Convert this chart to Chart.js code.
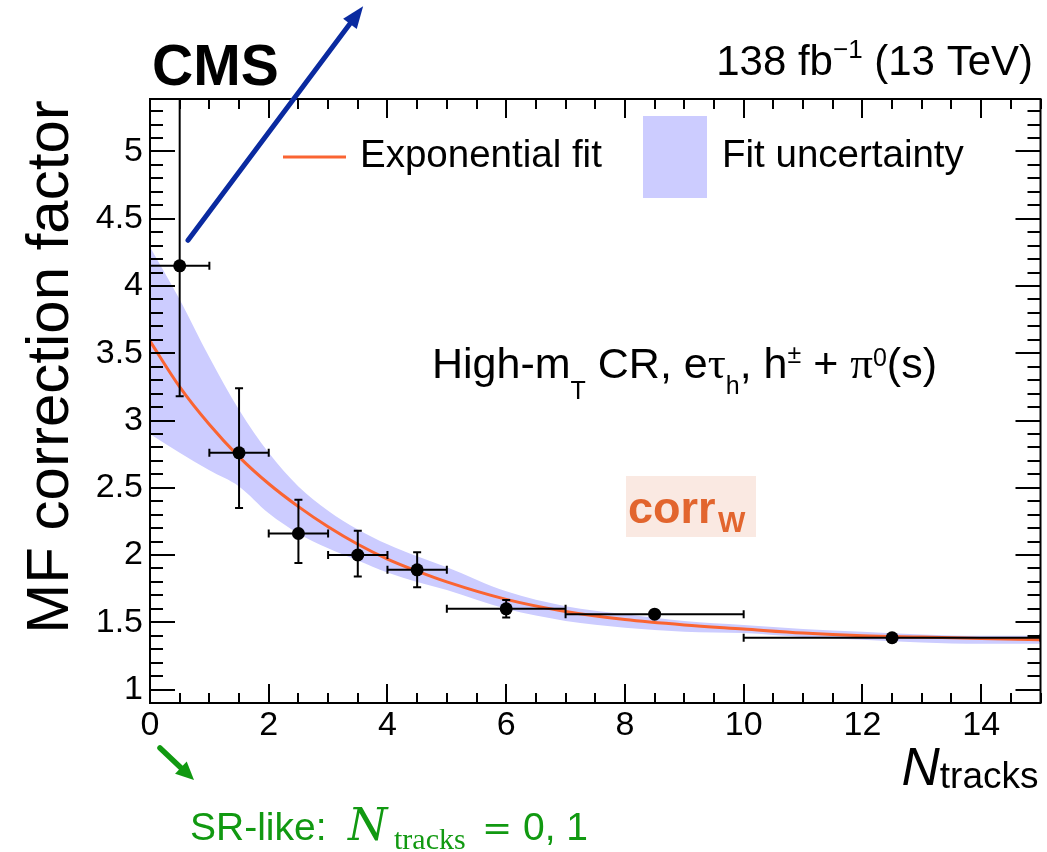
<!DOCTYPE html>
<html>
<head>
<meta charset="utf-8">
<script src="https://cdn.jsdelivr.net/npm/chart.js@4.4.1/dist/chart.umd.min.js"></script>
<style>
  html, body { margin: 0; padding: 0; background: #ffffff; }
  #wrap { position: relative; width: 1047px; height: 852px; }
  canvas { display: block; }
</style>
</head>
<body>
<div id="wrap"><canvas id="c" width="1047" height="852"></canvas></div>
<script>
// MF correction factor per N_tracks bin (centre, bin edges, value, error range)
const binCenter = [0.5, 1.5, 2.5, 3.5, 4.5, 6, 8.5, 12.5];
const binLow    = [0, 1, 2, 3, 4, 5, 7, 10];
const binHigh   = [1, 2, 3, 4, 5, 7, 10, 15];
const mfValue   = [4.15, 2.76, 2.16, 2.00, 1.89, 1.60, 1.56, 1.385];
const mfErrLow  = [3.18, 2.35, 1.94, 1.84, 1.76, 1.535, 1.55, 1.375];
const mfErrHigh = [6.50, 3.24, 2.41, 2.18, 2.02, 1.665, 1.57, 1.395];

// exponential fit and its uncertainty band, sampled along N_tracks
const fitX   = [0, 0.5, 1, 1.5, 2, 2.5, 3, 3.5, 4, 4.5, 5, 6, 7, 8, 9, 10, 11, 12, 13, 14, 15];
const fitY   = [3.59, 3.25, 2.97, 2.73, 2.53, 2.36, 2.21, 2.08, 1.97, 1.88, 1.80, 1.67, 1.58, 1.52, 1.48, 1.45, 1.42, 1.40, 1.39, 1.38, 1.37];
const bandUp = [4.29, 3.90, 3.47, 3.08, 2.76, 2.51, 2.33, 2.19, 2.08, 1.99, 1.91, 1.73, 1.62, 1.56, 1.51, 1.48, 1.45, 1.43, 1.41, 1.40, 1.40];
const bandLo = [2.90, 2.76, 2.63, 2.51, 2.31, 2.16, 2.05, 1.96, 1.87, 1.80, 1.74, 1.60, 1.51, 1.46, 1.43, 1.42, 1.39, 1.37, 1.35, 1.34, 1.34];

// axis tick labels
const xTicks = [0, 2, 4, 6, 8, 10, 12, 14];
const yTicks = [1, 1.5, 2, 2.5, 3, 3.5, 4, 4.5, 5];

const SANS  = "'Liberation Sans', Arial, Helvetica, sans-serif";
const SERIF = "'Liberation Serif', 'Times New Roman', serif";
const MATH  = "'DejaVu Serif', 'Liberation Serif', serif";
const FIT_COLOR  = '#fa6432';
const BAND_COLOR = '#ccccff';
const TICK_FONT  = { family: SANS, size: 34, style: 'normal', weight: 'normal', lineHeight: 1.2 };

Chart.defaults.font.family = SANS;
Chart.defaults.color = '#000';

function pts(xs, ys) { return xs.map((x, i) => ({ x: x, y: ys[i] })); }

// frame with ROOT-style inward ticks on all four sides
const framePlugin = {
  id: 'frame',
  afterDatasetsDraw(chart) {
    const { ctx, chartArea: a, scales } = chart;
    const xs = scales.x, ys = scales.y;
    ctx.save();
    ctx.strokeStyle = '#000';
    ctx.lineWidth = 2;
    ctx.beginPath();
    for (let i = 0; i <= 30; i++) {
      const v = i * 0.5;
      const px = Math.round(xs.getPixelForValue(v));
      const len = (i % 4 === 0) ? 19 : 10;
      ctx.moveTo(px, a.bottom); ctx.lineTo(px, a.bottom - len);
      ctx.moveTo(px, a.top); ctx.lineTo(px, a.top + len);
    }
    for (let i = 9; i <= 53; i++) {
      const v = i / 10;
      const py = Math.round(ys.getPixelForValue(v));
      const len = (i % 5 === 0) ? 25 : 13;
      ctx.moveTo(a.left, py); ctx.lineTo(a.left + len, py);
      ctx.moveTo(a.right, py); ctx.lineTo(a.right - len, py);
    }
    ctx.stroke();
    ctx.strokeRect(a.left, a.top, a.right - a.left, a.bottom - a.top);
    ctx.restore();
  }
};

// horizontal (bin width) and vertical (uncertainty) error bars with end caps
const errorBarPlugin = {
  id: 'errorBars',
  afterDatasetsDraw(chart) {
    const { ctx, chartArea: a, scales } = chart;
    const xs = scales.x, ys = scales.y;
    ctx.save();
    ctx.beginPath();
    ctx.rect(a.left, a.top, a.right - a.left, a.bottom - a.top);
    ctx.clip();
    ctx.strokeStyle = '#000';
    ctx.lineWidth = 2;
    const cap = 4;
    ctx.beginPath();
    binCenter.forEach((xc, i) => {
      const px = xs.getPixelForValue(xc);
      const py = ys.getPixelForValue(mfValue[i]);
      const xl = xs.getPixelForValue(binLow[i]);
      const xh = xs.getPixelForValue(binHigh[i]);
      const yl = ys.getPixelForValue(mfErrLow[i]);
      const yh = ys.getPixelForValue(mfErrHigh[i]);
      ctx.moveTo(xl, py); ctx.lineTo(xh, py);
      ctx.moveTo(xl, py - cap); ctx.lineTo(xl, py + cap);
      ctx.moveTo(xh, py - cap); ctx.lineTo(xh, py + cap);
      ctx.moveTo(px, yl); ctx.lineTo(px, yh);
      ctx.moveTo(px - cap, yl); ctx.lineTo(px + cap, yl);
      ctx.moveTo(px - cap, yh); ctx.lineTo(px + cap, yh);
    });
    ctx.stroke();
    ctx.restore();
  }
};

function richText(ctx, x, y, segs) {
  let cx = x;
  segs.forEach(s => {
    ctx.font = s[1];
    ctx.fillText(s[0], cx, y + (s[2] || 0));
    cx += ctx.measureText(s[0]).width;
  });
  return cx;
}
function richWidth(ctx, segs) {
  let w = 0;
  segs.forEach(s => { ctx.font = s[1]; w += ctx.measureText(s[0]).width; });
  return w;
}
function arrow(ctx, x0, y0, x1, y1, color, lw, headLen, headW) {
  const ang = Math.atan2(y1 - y0, x1 - x0);
  const bx = x1 - headLen * Math.cos(ang), by = y1 - headLen * Math.sin(ang);
  ctx.save();
  ctx.strokeStyle = color; ctx.fillStyle = color;
  ctx.lineWidth = lw; ctx.lineCap = 'round';
  ctx.beginPath(); ctx.moveTo(x0, y0); ctx.lineTo(bx, by); ctx.stroke();
  ctx.beginPath();
  ctx.moveTo(x1, y1);
  ctx.lineTo(bx + headW / 2 * Math.sin(ang), by - headW / 2 * Math.cos(ang));
  ctx.lineTo(bx - headW / 2 * Math.sin(ang), by + headW / 2 * Math.cos(ang));
  ctx.closePath(); ctx.fill();
  ctx.restore();
}

// titles, legend, labels and arrows
const labelPlugin = {
  id: 'labels',
  afterDraw(chart) {
    const { ctx, chartArea: a, scales } = chart;
    const xs = scales.x, ys = scales.y;
    ctx.save();
    ctx.fillStyle = '#000';
    ctx.textBaseline = 'alphabetic';
    ctx.textAlign = 'left';

    // experiment label and luminosity
    ctx.font = 'bold 57px ' + SANS;
    ctx.fillText('CMS', a.left + 2, 85);
    const lumi = [['138 fb', '42px ' + SANS], ['\u22121', '26px ' + SANS, -17], [' (13 TeV)', '42px ' + SANS]];
    richText(ctx, 1033 - richWidth(ctx, lumi), 75, lumi);

    // y axis title
    ctx.save();
    ctx.translate(68, 367);
    ctx.rotate(-Math.PI / 2);
    ctx.textAlign = 'center';
    ctx.font = '60px ' + SANS;
    ctx.fillText('MF correction factor', 0, 0);
    ctx.restore();

    // x axis title
    const xt = [['N', 'italic 53px ' + SANS], ['tracks', '37px ' + SANS, 3]];
    richText(ctx, a.right - 2 - richWidth(ctx, xt), 785, xt);

    // legend
    ctx.strokeStyle = FIT_COLOR; ctx.lineWidth = 3;
    ctx.beginPath(); ctx.moveTo(283, 157); ctx.lineTo(346, 157); ctx.stroke();
    ctx.font = '38.5px ' + SANS;
    ctx.fillText('Exponential fit', 360, 167);
    ctx.fillStyle = BAND_COLOR;
    ctx.fillRect(643, 116, 64, 82);
    ctx.fillStyle = '#000';
    ctx.fillText('Fit uncertainty', 722, 167);

    // region label
    const big = '43px ' + SANS, sm = '25px ' + SANS, gk = '45px ' + SERIF;
    richText(ctx, 432, 378, [
      ['High-m', big], ['T', sm, 21], [' CR, e', big], ['\u03c4', gk], ['h', sm, 16],
      [', h', big], ['\u00b1', sm, -15], [' + ', big], ['\u03c0', gk], ['0', sm, -12], ['(s)', big]
    ]);

    // correction tag
    ctx.fillStyle = '#fae9e2';
    ctx.fillRect(626, 476, 130, 61);
    ctx.fillStyle = '#e2652e';
    ctx.font = 'bold 45px ' + SANS;
    ctx.fillText('corr', 628, 523);
    ctx.font = 'bold 29px ' + SANS;
    ctx.fillText('W', 718, 532);

    // signal-region-like note below the axis
    ctx.fillStyle = '#119911';
    ctx.font = '39px ' + SANS;
    ctx.fillText('SR-like:', 190, 840);
    ctx.font = 'italic 45px ' + MATH;
    ctx.fillText('N', 348, 840);
    ctx.font = '30px ' + SERIF;
    ctx.fillText('tracks', 394, 849);
    ctx.font = '36px ' + MATH;
    ctx.fillText('=', 482, 840);
    ctx.font = '39px ' + SANS;
    ctx.fillText('0, 1', 523, 840);
    arrow(ctx, 160, 748, 194, 780, '#119911', 5.5, 18, 17);

    // arrow for the first bin's off-scale uncertainty
    arrow(ctx, xs.getPixelForValue(0.64), ys.getPixelForValue(4.34),
          xs.getPixelForValue(3.59), ys.getPixelForValue(6.08), '#0a2aa0', 5, 22, 17);
    ctx.restore();
  }
};

new Chart(document.getElementById('c').getContext('2d'), {
  type: 'line',
  data: {
    datasets: [
      { label: 'Fit uncertainty', data: pts(fitX, bandUp), borderWidth: 0, borderColor: 'rgba(0,0,0,0)',
        pointRadius: 0, fill: '+1', backgroundColor: BAND_COLOR, cubicInterpolationMode: 'monotone', order: 3 },
      { label: 'band low', data: pts(fitX, bandLo), borderWidth: 0, borderColor: 'rgba(0,0,0,0)',
        pointRadius: 0, fill: false, cubicInterpolationMode: 'monotone', order: 3 },
      { label: 'Exponential fit', data: pts(fitX, fitY), borderColor: FIT_COLOR, borderWidth: 3,
        pointRadius: 0, fill: false, cubicInterpolationMode: 'monotone', order: 2 },
      { type: 'scatter', label: 'Data', data: pts(binCenter, mfValue), pointRadius: 6.5,
        backgroundColor: '#000', borderWidth: 0, order: 1 }
    ]
  },
  options: {
    responsive: false,
    devicePixelRatio: 1,
    animation: false,
    layout: { padding: { top: 99, right: 2, left: 0, bottom: 0 } },
    plugins: { legend: { display: false }, tooltip: { enabled: false } },
    scales: {
      x: {
        type: 'linear', min: 0, max: 15,
        afterFit(s) { s.height = 149; },
        afterBuildTicks(s) { s.ticks = xTicks.map(v => ({ value: v })); },
        grid: { display: false, drawTicks: false },
        border: { display: false },
        ticks: { font: () => TICK_FONT, color: '#000', padding: 2, maxRotation: 0, autoSkip: false,
                 callback: v => String(v) }
      },
      y: {
        type: 'linear', min: 0.9, max: 5.39,
        afterFit(s) { s.width = 150; },
        afterBuildTicks(s) { s.ticks = yTicks.map(v => ({ value: v })); },
        grid: { display: false, drawTicks: false },
        border: { display: false },
        ticks: { font: () => TICK_FONT, color: '#000', padding: 7, autoSkip: false,
                 callback: v => String(v) }
      }
    }
  },
  plugins: [framePlugin, errorBarPlugin, labelPlugin]
});
</script>
</body>
</html>
